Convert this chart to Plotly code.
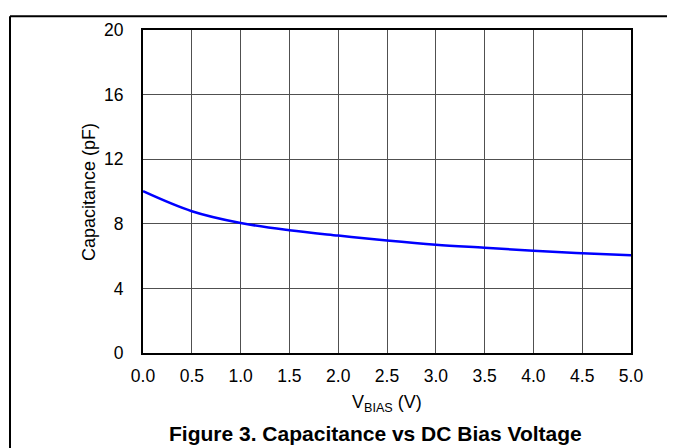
import plotly.graph_objects as go

bias_v = [0.0, 0.5, 1.0, 1.5, 2.0, 2.5, 3.0, 3.5, 4.0, 4.5, 5.0]
capacitance_pf = [10.02, 8.78, 8.05, 7.6, 7.27, 6.97, 6.71, 6.52, 6.33, 6.18, 6.05]
x_ticks = [0.0, 0.5, 1.0, 1.5, 2.0, 2.5, 3.0, 3.5, 4.0, 4.5, 5.0]
y_ticks = [0, 4, 8, 12, 16, 20]

FONT = "Liberation Sans"
OFF = 8  # default page body margin
W, H = 675 - OFF, 448 - OFF
L, T = 143 - OFF, 22 - OFF
pw, ph = 488, 331
R, B = W - L - pw, H - T - ph


def px(page_x):
    return (page_x - OFF - L) / pw


def py(page_y):
    return (T + ph - (page_y - OFF)) / ph


fig = go.Figure()
fig.add_trace(go.Scatter(x=bias_v, y=capacitance_pf, mode="lines",
                         line=dict(color="#0000ff", width=2.5, shape="spline"),
                         showlegend=False, hoverinfo="skip"))

fig.update_layout(
    width=W, height=H,
    margin=dict(l=L, r=R, t=T, b=B),
    paper_bgcolor="white", plot_bgcolor="white",
    font=dict(family=FONT, size=18, color="black"),
    xaxis=dict(range=[0, 5], tickvals=x_ticks, ticktext=[f"{v:.1f}" for v in x_ticks],
               showgrid=True, gridcolor="#505050", gridwidth=1,
               showline=True, linecolor="black", linewidth=2, mirror=True,
               ticks="", zeroline=False, ticklabelstandoff=6,
               tickfont=dict(size=17.5)),
    yaxis=dict(range=[0, 20], tickvals=y_ticks,
               showgrid=True, gridcolor="#505050", gridwidth=1,
               showline=True, linecolor="black", linewidth=2, mirror=True,
               ticks="", zeroline=False, ticklabelstandoff=14,
               tickfont=dict(size=17.5)),
    annotations=[
        dict(text="<b>Figure 3. Capacitance vs DC Bias Voltage</b>",
             xref="paper", yref="paper", x=px(375), y=py(436),
             xanchor="center", yanchor="middle", showarrow=False,
             font=dict(size=21, family=FONT, color="black")),
        dict(text="V<sub>BIAS</sub> (V)",
             xref="paper", yref="paper", x=px(387), y=py(405),
             xanchor="center", yanchor="middle", showarrow=False,
             font=dict(size=18, family=FONT, color="black")),
        dict(text="Capacitance (pF)", textangle=-90,
             xref="paper", yref="paper", x=px(89), y=py(188),
             xanchor="center", yanchor="middle", showarrow=False,
             font=dict(size=18, family=FONT, color="black")),
    ],
    shapes=[
        dict(type="line", xref="paper", yref="paper",
             x0=px(10), x1=px(10), y0=py(8), y1=py(460),
             line=dict(color="black", width=2)),
        dict(type="line", xref="paper", yref="paper",
             x0=px(10), x1=px(690), y0=py(8), y1=py(8),
             line=dict(color="black", width=2)),
    ],
)

fig.write_html("out.html")
